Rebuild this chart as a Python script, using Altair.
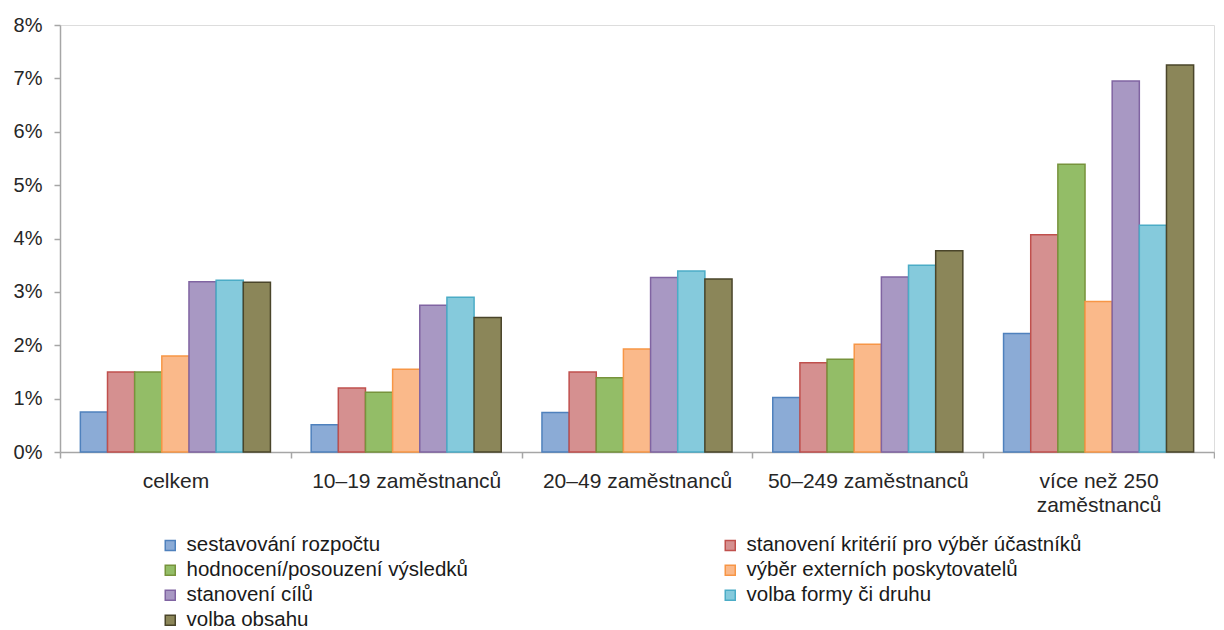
import altair as alt
import pandas as pd

categories = ["celkem", "10–19 zaměstnanců", "20–49 zaměstnanců",
              "50–249 zaměstnanců", "více než 250 zaměstnanců"]

series = ["sestavování rozpočtu", "stanovení kritérií pro výběr účastníků",
          "hodnocení/posouzení výsledků", "výběr externích poskytovatelů",
          "stanovení cílů", "volba formy či druhu", "volba obsahu"]

v_rozpocet = [0.75, 0.51, 0.74, 1.02, 2.22]
v_kriteria = [1.50, 1.20, 1.50, 1.67, 4.07]
v_hodnoceni = [1.50, 1.12, 1.39, 1.74, 5.39]
v_externi = [1.80, 1.55, 1.93, 2.02, 2.82]
v_cile = [3.19, 2.75, 3.27, 3.28, 6.95]
v_forma = [3.22, 2.90, 3.39, 3.50, 4.25]
v_obsah = [3.18, 2.52, 3.24, 3.77, 7.25]

y_ticks = [0, 1, 2, 3, 4, 5, 6, 7, 8]

fills = ["#8BABD6", "#D59090", "#93BD67", "#FAB98A", "#A898C3", "#85CADC", "#8B8659"]
strokes = ["#4F81BD", "#C0504D", "#77933C", "#F79646", "#8064A2", "#4BACC6", "#4A452A"]

all_values = [v_rozpocet, v_kriteria, v_hodnoceni, v_externi, v_cile, v_forma, v_obsah]
rows = []
for s, vals in zip(series, all_values):
    for c, v in zip(categories, vals):
        rows.append({"kategorie": c, "serie": s, "hodnota": v})
df = pd.DataFrame(rows)

FONT = "Liberation Sans"
AXIS_COLOR = "#A6A6A6"

legend = alt.Legend(
    title=None, orient="none", legendX=100, legendY=510, columns=2,
    direction="horizontal",
    columnPadding=251, rowPadding=4, symbolType="square", symbolSize=100,
    symbolStrokeWidth=1.5, labelFontSize=20.5, labelFont=FONT, labelColor="#1a1a1a",
    labelOffset=6, padding=0, labelLimit=0,
)

chart = alt.Chart(df).mark_bar(strokeWidth=1.5).encode(
    x=alt.X("kategorie:N", sort=categories,
            scale=alt.Scale(paddingInner=0, paddingOuter=0),
            axis=alt.Axis(title=None, labelAngle=0, tickBand="extent",
                          domainColor=AXIS_COLOR, tickColor=AXIS_COLOR, domainWidth=1.5,
                          tickWidth=1.5, tickSize=6, labelFontSize=21, labelPadding=12,
                          labelColor="#262626", labelFont=FONT, labelLineHeight=24,
                          labelLimit=0,
                          labelExpr="datum.label == 'více než 250 zaměstnanců' ? ['více než 250', 'zaměstnanců'] : datum.label")),
    xOffset=alt.XOffset("serie:N", sort=series,
                        scale=alt.Scale(domain=series, paddingInner=0, paddingOuter=0.75)),
    y=alt.Y("hodnota:Q", scale=alt.Scale(domain=[0, 8]),
            axis=alt.Axis(title=None, values=y_ticks, labelExpr="datum.value + '%'",
                          grid=False, domainColor=AXIS_COLOR, tickColor=AXIS_COLOR,
                          domainWidth=1.5, tickWidth=1.5, tickSize=6, labelFontSize=20,
                          labelPadding=12, labelColor="#262626", labelFont=FONT)),
    fill=alt.Fill("serie:N", sort=series, scale=alt.Scale(domain=series, range=fills),
                  legend=legend),
    stroke=alt.Stroke("serie:N", sort=series, scale=alt.Scale(domain=series, range=strokes),
                      legend=legend),
).properties(
    width=1154, height=427,
    autosize=alt.AutoSizeParams(type="none"),
    padding={"left": 52, "top": 17, "right": 1, "bottom": 178},
).configure_view(stroke=None).configure(background="white")

chart.save("out.html", embed_options={"renderer": "svg", "actions": False})
